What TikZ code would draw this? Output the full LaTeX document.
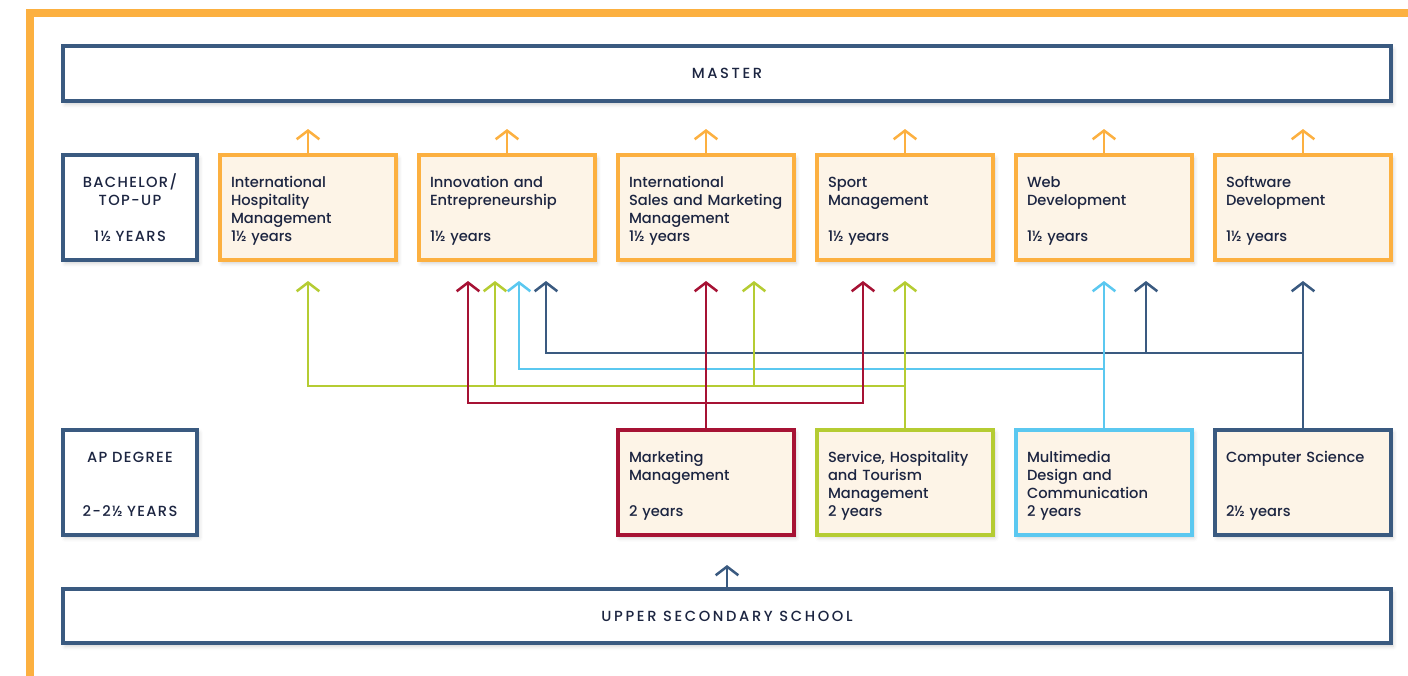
\documentclass[tikz,border=0pt]{standalone}
\usepackage{fontspec}
\setmainfont{Poppins Medium}
\usetikzlibrary{arrows.meta,calc,shadows.blur}
\definecolor{frameorange}{RGB}{252,176,64}
\definecolor{navy}{RGB}{58,90,128}
\definecolor{crimson}{RGB}{166,18,52}
\definecolor{lime}{RGB}{181,204,51}
\definecolor{sky}{RGB}{91,200,240}
\definecolor{cream}{RGB}{253,244,231}
\definecolor{ink}{RGB}{28,37,65}
\newcommand{\topstrut}{\rule{0pt}{14pt}}
\tikzset{
  shade box/.style={blur shadow={shadow xshift=1.5pt,shadow yshift=-2.5pt,shadow blur radius=3pt,shadow opacity=18}},
  levelbox/.style={draw=navy,fill=white,line width=3pt,shade box,minimum height=78.75pt,
    text width=92pt,inner xsep=4.25pt,align=center,text=ink,
    font=\fontsize{11}{13.5}\selectfont\addfontfeatures{LetterSpace=9},
    execute at begin node=\rule{0pt}{11pt}},
  progbox/.style={draw=#1,fill=cream,line width=3pt,shade box,minimum height=78.75pt,
    text width=115.5pt,inner xsep=8.25pt,align=left,text=ink,
    font=\fontsize{11}{13.5}\selectfont,execute at begin node=\topstrut},
  widebox/.style={draw=navy,fill=white,line width=3pt,shade box,minimum width=996pt,
    minimum height=#1,text=ink,font=\fontsize{11}{13.5}\selectfont\addfontfeatures{LetterSpace=18}},
  lead/.style={draw=#1,line width=1.9pt,-{Straight Barb[length=6.5pt,width=17pt]}}
}
\begin{document}
\begin{tikzpicture}[x=0.75pt,y=-0.75pt]
  \useasboundingbox (0,0) rectangle (1408,675);
  % outer frame
  \draw[frameorange,line width=6pt] (29.5,690) -- (29.5,13) -- (1420,13);

  % levels
  \node[widebox=41.25pt] (master) at (727,73.5) {MASTER};
  \node[widebox=40.5pt] (uss) at (727,616) {UPPER SECONDARY SCHOOL};
  \node[levelbox] (bach) at (130,207.5) {BACHELOR/\\TOP-UP\\\strut\\1½ YEARS};
  \node[levelbox] (ap) at (130,482) {AP DEGREE\\\strut\\\strut\\2-2½ YEARS};

  % bachelor programmes
  \node[progbox=frameorange] (ihm) at (308,207.5) {International\\Hospitality\\Management\\1½ years};
  \node[progbox=frameorange] (ie) at (507,207.5) {Innovation and\\Entrepreneurship\\\strut\\1½ years};
  \node[progbox=frameorange] (ism) at (706,207.5) {International\\Sales and Marketing\\Management\\1½ years};
  \node[progbox=frameorange] (sm) at (905,207.5) {Sport\\Management\\\strut\\1½ years};
  \node[progbox=frameorange] (wd) at (1104,207.5) {Web\\Development\\\strut\\1½ years};
  \node[progbox=frameorange] (sd) at (1303,207.5) {Software\\Development\\\strut\\1½ years};

  % AP programmes
  \node[progbox=crimson] (mm) at (706,482) {Marketing\\Management\\\strut\\2 years};
  \node[progbox=lime] (sht) at (905,482) {Service, Hospitality\\and Tourism\\Management\\2 years};
  \node[progbox=sky] (mdc) at (1104,482) {Multimedia\\Design and\\Communication\\2 years};
  \node[progbox=navy] (cs) at (1303,482) {Computer Science\\\strut\\\strut\\2½ years};

  \foreach \p in {ihm,ie,ism,sm,wd,sd}
    \draw[lead=frameorange] (\p.north) -- ++(0,-24);
  \draw[lead=navy] (uss.north) -- ++(0,-22);

  % bus levels
  \coordinate (tip) at (0,281);
  \coordinate (nbus) at (0,353);
  \coordinate (bbus) at (0,369);
  \coordinate (gbus) at (0,386);
  \coordinate (rbus) at (0,403);

  % computer science
  \draw[lead=navy] (cs.north) -- (sd.south |- tip);
  \draw[lead=navy] (cs.north |- nbus) -| ($(ie.south |- tip)+(39,0)$);
  \draw[lead=navy] ($(wd.south |- nbus)+(42,0)$) -- ($(wd.south |- tip)+(42,0)$);
  % multimedia
  \draw[lead=sky] (mdc.north) -- (wd.south |- tip);
  \draw[lead=sky] (mdc.north |- bbus) -| ($(ie.south |- tip)+(12,0)$);
  % service
  \draw[lead=lime] (sht.north) -- (sm.south |- tip);
  \draw[lead=lime] (sht.north |- gbus) -| (ihm.south |- tip);
  \draw[lead=lime] ($(ie.south |- gbus)+(-12,0)$) -- ($(ie.south |- tip)+(-12,0)$);
  \draw[lead=lime] ($(ism.south |- gbus)+(48,0)$) -- ($(ism.south |- tip)+(48,0)$);
  % marketing
  \draw[lead=crimson] (mm.north) -- (ism.south |- tip);
  \draw[lead=crimson] (mm.north |- rbus) -| ($(ie.south |- tip)+(-39,0)$);
  \draw[lead=crimson] (mm.north |- rbus) -| ($(sm.south |- tip)+(-42,0)$);
\end{tikzpicture}
\end{document}
